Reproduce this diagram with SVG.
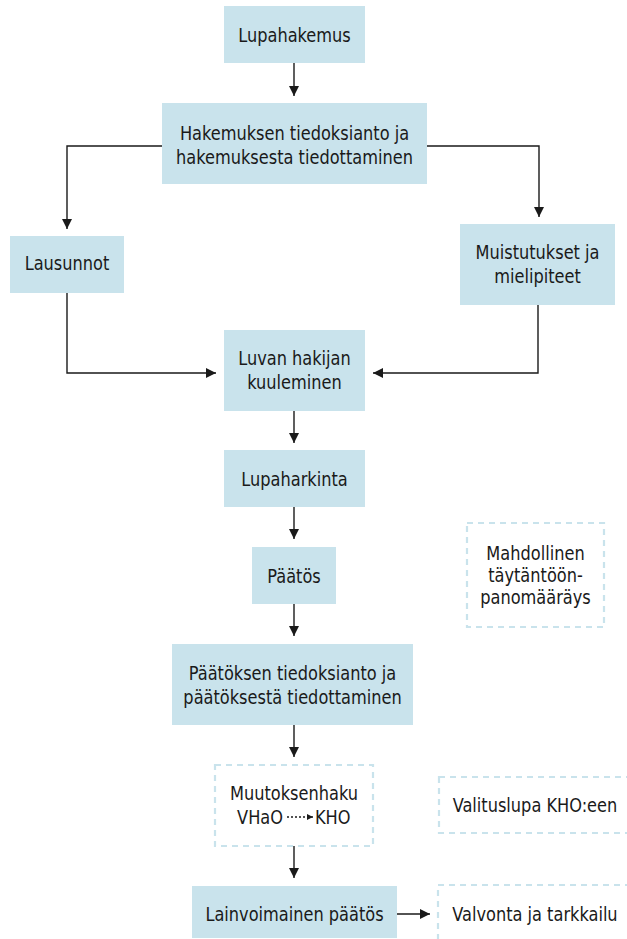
<svg xmlns="http://www.w3.org/2000/svg" width="627" height="939" viewBox="0 0 627 939">
<style>
.n{fill:#c9e3ec}
.d{fill:#fff;stroke:#c9e3ec;stroke-width:2.2;stroke-dasharray:6 5}
text{font-family:"Liberation Sans Narrow","DejaVu Sans Condensed","DejaVu Sans",sans-serif;font-size:20px;fill:#1a1a1a;text-anchor:middle}
.c{fill:none;stroke:#1a1a1a;stroke-width:1.4}
</style>
<defs>
<marker id="a" viewBox="0 0 10 10" refX="10" refY="5" markerWidth="10" markerHeight="10" markerUnits="userSpaceOnUse" orient="auto">
<path d="M0,0 L10,5 L0,10 Z" fill="#1a1a1a"/>
</marker>
<marker id="s" viewBox="0 0 10 10" refX="10" refY="5" markerWidth="6" markerHeight="6" markerUnits="userSpaceOnUse" orient="auto">
<path d="M0,0 L10,5 L0,10 Z" fill="#1a1a1a"/>
</marker>
</defs>
<rect width="627" height="939" fill="#fff"/>
<g id="connectors">
<path class="c" d="M294,63 V96" marker-end="url(#a)"/>
<path class="c" d="M162,146 H67 V229" marker-end="url(#a)"/>
<path class="c" d="M427,146 H539 V217" marker-end="url(#a)"/>
<path class="c" d="M67,293 V373 H216" marker-end="url(#a)"/>
<path class="c" d="M538,305 V373 H373" marker-end="url(#a)"/>
<path class="c" d="M294,411 V443" marker-end="url(#a)"/>
<path class="c" d="M294,507 V539" marker-end="url(#a)"/>
<path class="c" d="M294,604 V636" marker-end="url(#a)"/>
<path class="c" d="M294,725 V757" marker-end="url(#a)"/>
<path class="c" d="M294,846 V878" marker-end="url(#a)"/>
<path class="c" d="M397,914 H430" marker-end="url(#a)"/>
</g>
<g id="lupahakemus"><rect class="n" x="224" y="6" width="141" height="57"/><text transform="translate(294.5,42) scale(0.9,1)">Lupahakemus</text></g>
<g id="hakemuksen"><rect class="n" x="162" y="103" width="265" height="81"/><text transform="translate(294.5,140) scale(0.9,1)">Hakemuksen tiedoksianto ja</text><text transform="translate(294.5,164) scale(0.9,1)">hakemuksesta tiedottaminen</text></g>
<g id="lausunnot"><rect class="n" x="10" y="236" width="114" height="57"/><text transform="translate(67,270) scale(0.9,1)">Lausunnot</text></g>
<g id="muistutukset"><rect class="n" x="460" y="224" width="155" height="81"/><text transform="translate(537.5,259) scale(0.9,1)">Muistutukset ja</text><text transform="translate(537.5,283) scale(0.9,1)">mielipiteet</text></g>
<g id="luvan"><rect class="n" x="224" y="330" width="141" height="81"/><text transform="translate(294.5,365) scale(0.9,1)">Luvan hakijan</text><text transform="translate(294.5,389) scale(0.9,1)">kuuleminen</text></g>
<g id="lupaharkinta"><rect class="n" x="224" y="450" width="141" height="57"/><text transform="translate(294.5,486) scale(0.9,1)">Lupaharkinta</text></g>
<g id="paatos"><rect class="n" x="252" y="547" width="84" height="57"/><text transform="translate(294,583) scale(0.9,1)">Päätös</text></g>
<g id="mahdollinen"><rect class="d" x="467" y="523" width="137" height="104"/><text transform="translate(535.5,560) scale(0.9,1)">Mahdollinen</text><text transform="translate(535.5,582) scale(0.9,1)">täytäntöön-</text><text transform="translate(535.5,604) scale(0.9,1)">panomääräys</text></g>
<g id="paatoksen"><rect class="n" x="172" y="644" width="241" height="81"/><text transform="translate(292.5,680) scale(0.9,1)">Päätöksen tiedoksianto ja</text><text transform="translate(292.5,704) scale(0.9,1)">päätöksestä tiedottaminen</text></g>
<g id="muutoksenhaku"><rect class="d" x="215" y="765" width="158" height="81"/><text transform="translate(294,800) scale(0.9,1)">Muutoksenhaku</text><text transform="translate(283,824) scale(0.9,1)" style="text-anchor:end">VHaO</text><path d="M287,817 H313" fill="none" stroke="#1a1a1a" stroke-width="1.3" stroke-dasharray="2 2" marker-end="url(#s)"/><text transform="translate(315,824) scale(0.9,1)" style="text-anchor:start">KHO</text></g>
<g id="valituslupa"><rect class="d" x="439" y="777" width="200" height="56"/><text transform="translate(535,812) scale(0.9,1)">Valituslupa KHO:een</text></g>
<g id="lainvoimainen"><rect class="n" x="192" y="886" width="205" height="52"/><text transform="translate(294.5,921) scale(0.9,1)">Lainvoimainen päätös</text></g>
<g id="valvonta"><rect class="d" x="438" y="885" width="200" height="64"/><text transform="translate(535,921) scale(0.9,1)">Valvonta ja tarkkailu</text></g>
</svg>
